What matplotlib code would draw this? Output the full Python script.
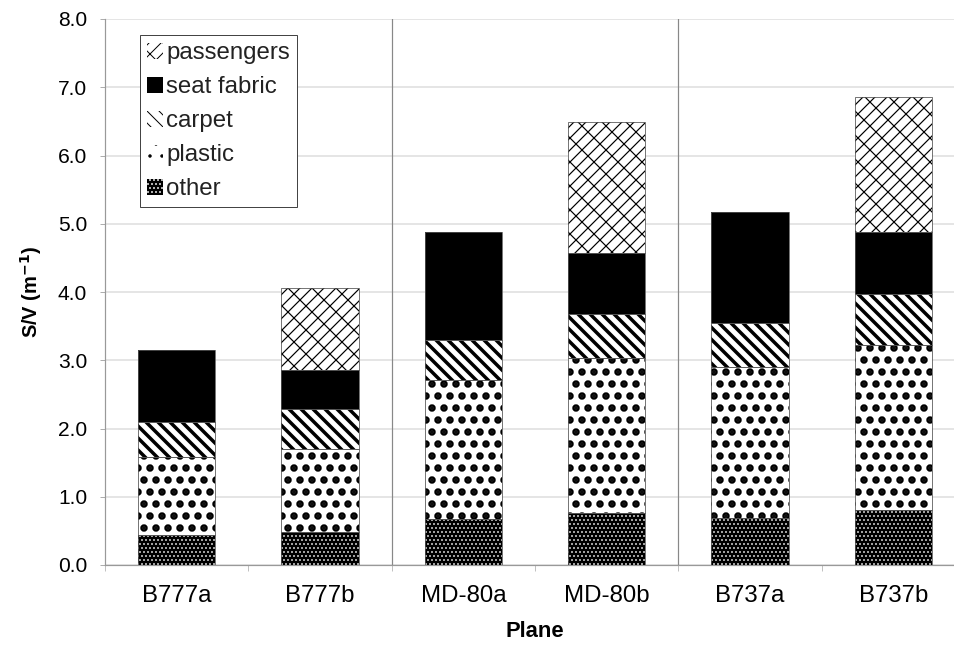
import numpy as np
import matplotlib
matplotlib.use("Agg")
import matplotlib.pyplot as plt

planes = ["B777a", "B777b", "MD-80a", "MD-80b", "B737a", "B737b"]
other = [0.44, 0.48, 0.68, 0.76, 0.69, 0.80]
plastic = [1.14, 1.22, 2.03, 2.27, 2.21, 2.42]
carpet = [0.52, 0.58, 0.59, 0.65, 0.65, 0.75]
seat_fabric = [1.05, 0.57, 1.58, 0.89, 1.62, 0.91]
passengers = [0.0, 1.21, 0.0, 1.92, 0.0, 1.98]

# (name, values, face, hatch colour, hatch, hatch linewidth)
layers = [
    ("other", other, "black", "white", "...", 0.9),
    ("plastic", plastic, "white", "black", ".", 5.0),
    ("carpet", carpet, "white", "black", "\\\\", 3.5),
    ("seat fabric", seat_fabric, "black", "black", "", 1.0),
    ("passengers", passengers, "white", "black", "//\\", 1.2),
]

plt.rcParams["font.family"] = ["Liberation Sans", "DejaVu Sans"]
plt.rcParams["text.color"] = "#222222"

DPI = 72
fig = plt.figure(figsize=(954 / DPI, 654 / DPI), dpi=DPI)
ax = fig.add_axes([105 / 954, 89 / 654, 860 / 954, 546 / 654])

x = np.arange(len(planes))
width = 0.54
bottom = np.zeros(len(planes))
handles = []
for name, vals, face, hcol, hatch, hlw in layers:
    vals = np.array(vals)
    bars = ax.bar(x, vals, width, bottom=bottom, color=face, edgecolor=hcol,
                  hatch=hatch, linewidth=0, zorder=3)
    for b in bars:
        if hasattr(b, "set_hatch_linewidth"):
            b.set_hatch_linewidth(hlw)
    # thin outline on top
    ax.bar(x[vals > 0], vals[vals > 0], width, bottom=bottom[vals > 0],
           fill=False, edgecolor="#555555", linewidth=0.8, zorder=4)
    h = plt.Rectangle((0, 0), 1, 1, facecolor=face, edgecolor=hcol, hatch=hatch,
                      linewidth=0)
    if hasattr(h, "set_hatch_linewidth"):
        h.set_hatch_linewidth(hlw)
    handles.append((h, name))
    bottom = bottom + vals

ax.set_xlim(-0.5, len(planes) - 0.5)
ax.set_ylim(0, 8)
ax.set_yticks(np.arange(0, 8.1, 1.0))
ax.set_yticklabels([f"{v:.1f}" for v in np.arange(0, 8.1, 1.0)])
ax.set_xticks(x)
ax.set_xticklabels(planes)
ax.set_xticks(np.arange(-0.5, len(planes), 1.0), minor=True)
ax.tick_params(axis="x", which="major", length=0, pad=20, labelsize=24)
ax.tick_params(axis="x", which="minor", length=6, color="#999999")
ax.tick_params(axis="y", length=5, color="#999999", labelsize=21, pad=13)

ax.grid(axis="y", color="#dddddd", linewidth=1.5, zorder=0)
ax.set_axisbelow(True)
for v in [1.5, 3.5]:
    ax.axvline(v, color="#888888", linewidth=1.2, zorder=1)

for s in ["top", "right"]:
    ax.spines[s].set_visible(False)
for s in ["left", "bottom"]:
    ax.spines[s].set_color("#999999")
    ax.spines[s].set_linewidth(1.2)

ax.set_ylabel("S/V (m$^{\\mathbf{-1}}$)", fontsize=20, fontweight="bold", labelpad=14)
ax.set_xlabel("Plane", fontsize=22, fontweight="bold", labelpad=14)

hs = [h for h, _ in handles][::-1]
ls = [n for _, n in handles][::-1]
leg = ax.legend(hs, ls, loc="upper left", bbox_to_anchor=(0.0407, 0.9707),
                borderaxespad=0, fontsize=24, handlelength=0.65, handleheight=0.65,
                handletextpad=0.15, labelspacing=0.5, borderpad=0.3,
                fancybox=False, framealpha=1)
leg.get_frame().set_edgecolor("#444444")
leg.get_frame().set_linewidth(1.0)

fig.savefig("out.png", dpi=DPI)
